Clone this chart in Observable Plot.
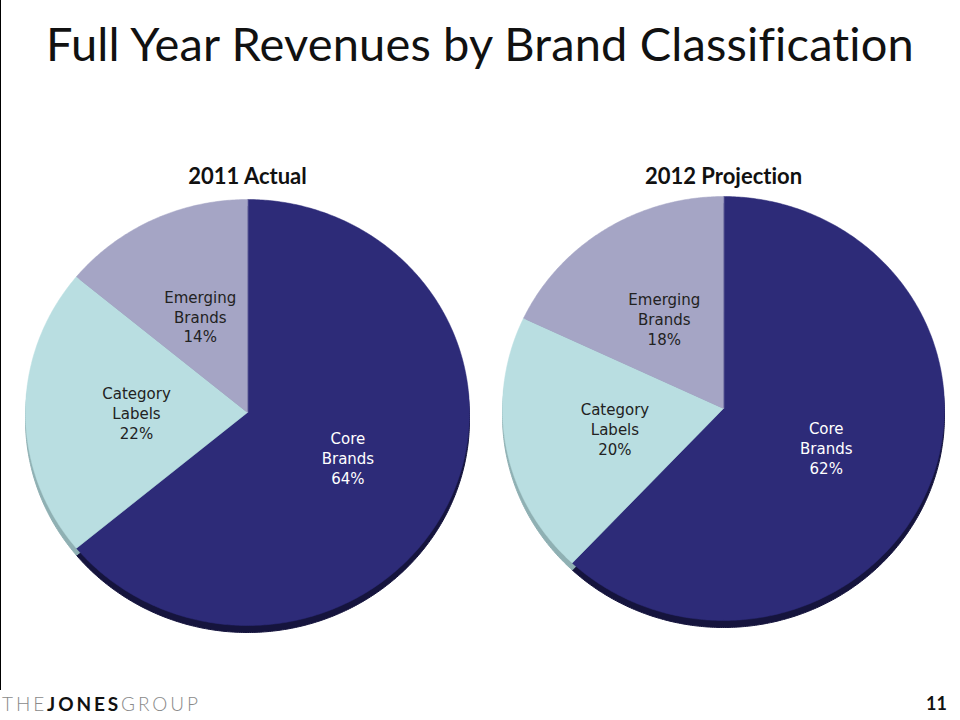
<!DOCTYPE html>
<html><head><meta charset="utf-8">
<script src="https://cdn.jsdelivr.net/npm/d3@7"></script>
<script src="https://cdn.jsdelivr.net/npm/@observablehq/plot@0.6"></script>
<style>
body{margin:0;background:#fff;}
#page{position:relative;width:960px;height:720px;overflow:hidden;background:#fff;font-family:Lato,"DejaVu Sans",sans-serif;font-variant-ligatures:none;}
#vline{position:absolute;left:0;top:0;width:1px;height:690px;background:#000;}
#title{position:absolute;left:0;width:960px;top:15px;text-align:center;font-size:47px;letter-spacing:0.15px;color:#111;white-space:nowrap;font-weight:400;}
.pie{position:absolute;top:150px;}
#logo{position:absolute;left:2px;top:692px;font-size:19px;letter-spacing:2.9px;white-space:nowrap;}
#logo .l{color:#8a8a8a;font-weight:300;}
#logo .b{color:#111;font-weight:700;}
#pnum{position:absolute;left:926px;top:692px;font-size:18px;font-weight:700;color:#111;}
svg text{font-variant-ligatures:none;}
</style></head>
<body>
<div id="page">
  <div id="vline"></div>
  <div id="title">Full Year Revenues by Brand Classification</div>
  <div id="p1" class="pie" style="left:0px"></div>
  <div id="p2" class="pie" style="left:480px"></div>
  <div id="logo"><span class="l">THE</span><span class="b">JONES</span><span class="l">GROUP</span></div>
  <div id="pnum">11</div>
</div>
<script>
const categories = ["Core Brands", "Category Labels", "Emerging Brands"];
const sliceLabels = ["Core\nBrands", "Category\nLabels", "Emerging\nBrands"];
const share2011 = [64, 22, 14];
const share2012 = [62, 20, 18];
const pieTitles = ["2011 Actual", "2012 Projection"];
const faceColors = ["#2d2b78", "#b9dee1", "#a5a5c5"];
const edgeColors = ["#15143d", "#8fb0b3", "#7b7b9a"];
const textColors = ["#ffffff", "#222222", "#222222"];

function piePlot(values, title, cx, cy, rx, ry) {
  const data = categories.map((c, i) => ({category: c, label: sliceLabels[i], value: values[i], face: faceColors[i], edge: edgeColors[i], tc: textColors[i]}));
  const arcs = d3.pie().sort(null).value(d => d.value)(data);
  const poly = [];
  arcs.forEach(a => {
    const n = Math.max(2, Math.ceil((a.endAngle - a.startAngle) / 0.01));
    poly.push({category: a.data.category, face: a.data.face, edge: a.data.edge, x: 0, y: 0});
    for (let k = 0; k <= n; k++) {
      const t = a.startAngle + (a.endAngle - a.startAngle) * k / n;
      poly.push({category: a.data.category, face: a.data.face, edge: a.data.edge, x: Math.sin(t), y: -Math.cos(t)});
    }
  });
  const labels = arcs.map(a => {
    const m = (a.startAngle + a.endAngle) / 2;
    return {text: `${a.data.label}\n${a.data.value}%`, tc: a.data.tc, x: 0.5 * Math.sin(m), y: -0.5 * Math.cos(m)};
  });
  return Plot.plot({
    width: 480, height: 500,
    margin: 0,
    x: {domain: [-1, 1], range: [cx - rx, cx + rx], axis: null},
    y: {domain: [-1, 1], range: [cy - ry, cy + ry], axis: null},
    color: {type: "identity"},
    style: {background: "transparent", fontFamily: "Lato, 'DejaVu Sans', sans-serif", overflow: "visible"},
    marks: [
      Plot.line(poly, {x: "x", y: "y", z: "category", fill: "edge", stroke: "edge", strokeWidth: 1, curve: "linear-closed", dy: 7}),
      Plot.line(poly, {x: "x", y: "y", z: "category", fill: "face", stroke: "face", strokeWidth: 0.5, curve: "linear-closed"}),
      Plot.text(labels, {x: "x", y: "y", text: "text", fill: "tc", fontSize: 15, lineHeight: 1.33, fontFamily: "'DejaVu Sans', sans-serif"}),
      Plot.text([{t: title, x: 0}], {x: "x", text: "t", frameAnchor: "top", dy: 26, lineAnchor: "middle", fontSize: 22, fontWeight: "bold", fill: "#111"})
    ]
  });
}

document.getElementById("p1").append(piePlot(share2011, pieTitles[0], 247, 262, 222, 213));
document.getElementById("p2").append(piePlot(share2012, pieTitles[1], 243, 258, 221, 212));
</script>
</body></html>
